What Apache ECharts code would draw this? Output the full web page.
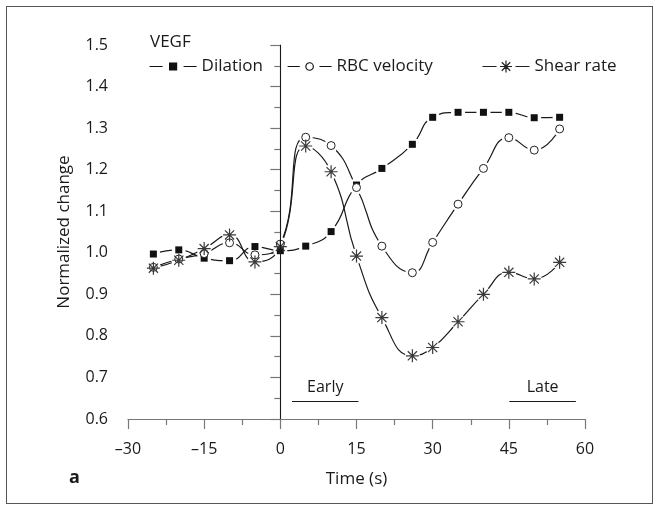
<!DOCTYPE html>
<html>
<head>
<meta charset="utf-8">
<script src="https://cdn.jsdelivr.net/npm/echarts@6/dist/echarts.min.js"></script>
<style>
html,body{margin:0;padding:0;background:#fff;}
#wrap{position:relative;width:660px;height:511px;}
#frame{position:absolute;left:6px;top:6px;width:647px;height:498px;border:1px solid #555;box-sizing:border-box;pointer-events:none;z-index:2;}
#chart{position:absolute;left:0;top:0;width:660px;height:511px;}
</style>
</head>
<body>
<div id="wrap"><div id="chart"></div><div id="frame"></div></div>
<script>
// ---- data ----
var time = [-25, -20, -15, -10, -5, 0, 5, 10, 15, 20, 26, 30, 35, 40, 45, 50, 55];
var dilation = [0.997, 1.007, 0.987, 0.981, 1.015, 1.005, 1.016, 1.051, 1.163, 1.203, 1.261, 1.326, 1.338, 1.338, 1.338, 1.325, 1.326];
var rbcVelocity = [0.965, 0.985, 0.998, 1.024, 0.995, 1.021, 1.278, 1.258, 1.157, 1.016, 0.952, 1.025, 1.117, 1.203, 1.277, 1.247, 1.298];
var shearRate = [0.963, 0.982, 1.010, 1.043, 0.978, 1.015, 1.257, 1.195, 0.992, 0.844, 0.752, 0.772, 0.834, 0.900, 0.953, 0.937, 0.977];
var seriesNames = ['Dilation', 'RBC velocity', 'Shear rate'];
var groupLabel = 'VEGF';
var panelLabel = 'a';
var xTitle = 'Time (s)';
var yTitle = 'Normalized change';
var periods = [
  {name: 'Early', from: 2.3, to: 15.4, level: 0.643},
  {name: 'Late', from: 45.1, to: 58.2, level: 0.643}
];

var FONT = 'Open Sans';
var INK = '#1a1a1a';
var STAR = 'path://M6,0L6,12M0,6L12,6M1.76,1.76L10.24,10.24M1.76,10.24L10.24,1.76';

// legend icons: "— marker —" drawn as one path each
var ICON_DIL = 'path://M0,6H13M34,6H47M20,2.5H27V9.5H20Z';
var ICON_RBC = 'path://M0,6H13M34,6H47M27.5,6A4,4 0 1 1 19.5,6A4,4 0 1 1 27.5,6Z';
var ICON_SHR = 'path://M0,6H14M33,6H47M23.5,0V12M17.5,6H29.5M19.26,1.76L27.74,10.24M19.26,10.24L27.74,1.76';

function pairs(vals) { return time.map(function (t, i) { return [t, vals[i]]; }); }

var markers = [
  {name: seriesNames[0], data: dilation, symbol: 'rect', size: 7, fill: '#111', border: '#111', bw: 0, gap: 14,
   icon: ICON_DIL, iconStyle: {color: '#111', borderColor: '#111', borderWidth: 1.2}},
  {name: seriesNames[1], data: rbcVelocity, symbol: 'circle', size: 8, fill: '#fff', border: '#222', bw: 1, gap: 14,
   icon: ICON_RBC, iconStyle: {color: '#fff', borderColor: '#111', borderWidth: 1.2}},
  {name: seriesNames[2], data: shearRate, symbol: STAR, size: 13, fill: 'none', border: '#3a3a3a', bw: 1.2, gap: 15,
   icon: ICON_SHR, iconStyle: {color: 'none', borderColor: '#222', borderWidth: 1.2}}
];

var series = [];
markers.forEach(function (m, i) {
  var s = {
    name: m.name, type: 'line', data: pairs(m.data), smooth: 0.5,
    symbol: 'none',
    lineStyle: {color: INK, width: 1.2},
    itemStyle: {color: '#111'},
    z: 2
  };
  if (i === 0) {
    var md = [[{coord: [0, 0.6]}, {coord: [0, 1.5]}]];
    periods.forEach(function (p) {
      md.push([{coord: [p.from, p.level], name: p.name}, {coord: [p.to, p.level]}]);
    });
    s.markLine = {
      silent: true, symbol: ['none', 'none'], animation: false,
      lineStyle: {color: INK, width: 1, type: 'solid'},
      label: {show: true, position: 'insideMiddleTop', distance: 6, formatter: '{b}',
        color: INK, fontFamily: FONT, fontSize: 16},
      data: md
    };
    s.markLine.data[0][0].label = {show: false};
  }
  series.push(s);
});
// white halo behind each marker so the curve stops short of it
markers.forEach(function (m) {
  series.push({
    type: 'scatter', data: pairs(m.data), symbol: 'circle', symbolSize: m.gap,
    itemStyle: {color: '#ffffff', opacity: 1}, z: 3, silent: true
  });
});
markers.forEach(function (m) {
  series.push({
    type: 'scatter', data: pairs(m.data), symbol: m.symbol, symbolSize: m.size,
    itemStyle: {color: m.fill, borderColor: m.border, borderWidth: m.bw, opacity: 1}, z: 4, silent: true
  });
});

var legendCommon = {
  orient: 'horizontal', top: 53, itemHeight: 12, itemGap: 6,
  textStyle: {color: INK, fontFamily: FONT, fontSize: 17}, selectedMode: false
};
var legendLefts = [144, 282, 475];
var legendWidths = [47, 44, 47];
var legends = markers.map(function (m, i) {
  return Object.assign({}, legendCommon, {
    left: legendLefts[i], itemWidth: legendWidths[i],
    data: [{name: m.name, icon: m.icon, itemStyle: m.iconStyle}]
  });
});

var chart = echarts.init(document.getElementById('chart'), null, {renderer: 'canvas'});
chart.setOption({
  backgroundColor: '#fff',
  animation: false,
  title: {text: groupLabel, left: 145, top: 29, textStyle: {fontFamily: FONT, fontSize: 17, fontWeight: 'normal', color: INK}},
  legend: legends,
  grid: {left: 128, right: 75, top: 45, bottom: 92, containLabel: false},
  xAxis: {
    type: 'value', min: -30, max: 60, interval: 15,
    name: xTitle, nameLocation: 'middle', nameGap: 52,
    nameTextStyle: {fontFamily: FONT, fontSize: 17, color: INK},
    axisLine: {lineStyle: {color: '#777', width: 1.2}},
    axisTick: {show: true, length: 10, lineStyle: {color: '#777', width: 1.2}},
    minorTick: {show: true, splitNumber: 2, length: 6, lineStyle: {color: '#777', width: 1.2}},
    splitLine: {show: false}, minorSplitLine: {show: false},
    axisLabel: {fontFamily: FONT, fontSize: 16, color: INK, margin: 22,
      formatter: function (v) { return String(v).replace('-', '\u2013'); }}
  },
  yAxis: {
    type: 'value', min: 0.6, max: 1.5, interval: 0.1,
    name: yTitle, nameLocation: 'middle', nameGap: 55, nameRotate: 90,
    nameTextStyle: {fontFamily: FONT, fontSize: 17, color: INK},
    axisLine: {show: true, lineStyle: {color: '#777', width: 1.2}},
    axisTick: {show: true, length: 10, lineStyle: {color: '#777', width: 1.2}},
    minorTick: {show: true, splitNumber: 2, length: 6, lineStyle: {color: '#777', width: 1.2}},
    splitLine: {show: false}, minorSplitLine: {show: false},
    axisLabel: {fontFamily: FONT, fontSize: 16, color: INK, margin: 20,
      formatter: function (v) { return v.toFixed(1); }}
  },
  graphic: [{type: 'text', left: 69, top: 469, style: {text: panelLabel, fontFamily: FONT, fontSize: 18, fontWeight: 'bold', fill: INK}}],
  series: series
});
</script>
</body>
</html>
